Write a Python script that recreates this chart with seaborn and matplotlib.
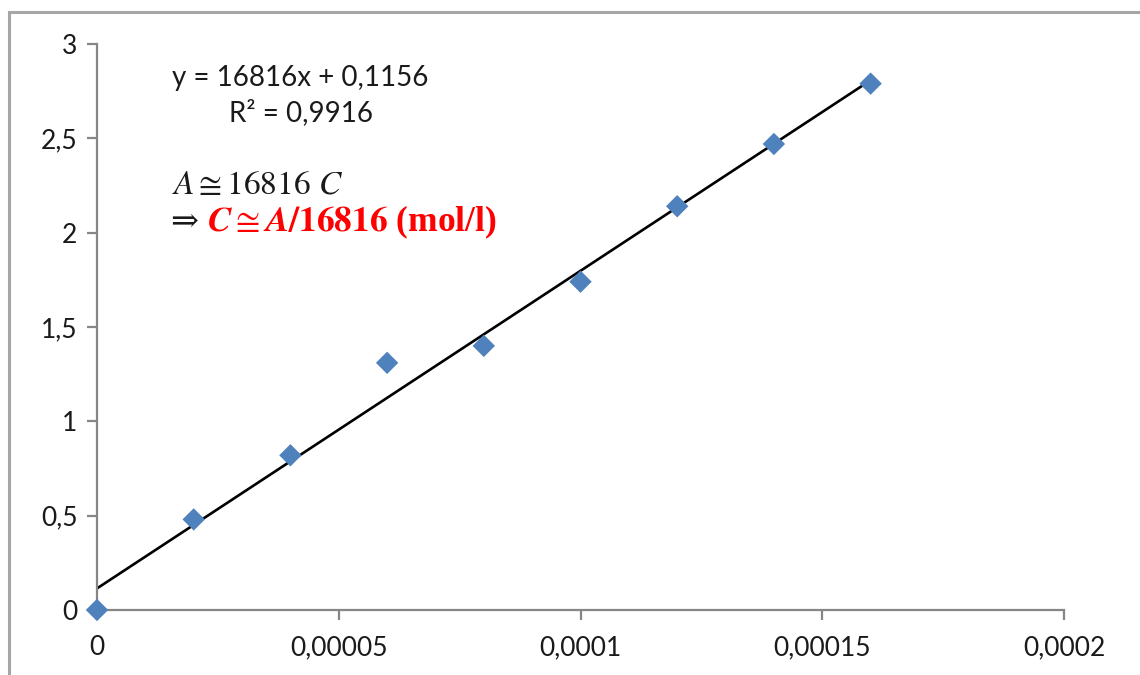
import numpy as np
import pandas as pd
import matplotlib
matplotlib.use("Agg")
import matplotlib.pyplot as plt
from matplotlib.patches import Rectangle
import seaborn as sns

# ---- data ----
concentration = [0, 0.00002, 0.00004, 0.00006, 0.00008, 0.0001, 0.00012, 0.00014, 0.00016]
absorbance = [0, 0.48, 0.82, 1.31, 1.40, 1.74, 2.14, 2.47, 2.79]
x_ticks = [0, 0.00005, 0.0001, 0.00015, 0.0002]
x_tick_labels = ["0", "0,00005", "0,0001", "0,00015", "0,0002"]
y_ticks = [0, 0.5, 1, 1.5, 2, 2.5, 3]
y_tick_labels = ["0", "0,5", "1", "1,5", "2", "2,5", "3"]
equation_text = "y = 16816x + 0,1156"
r2_text = "R² = 0,9916"
relation_text = r"$A{\cong}16816\ C$"
arrow_text = "⇒"
result_text = r"$\mathbfit{C}{\cong}\mathbfit{A}\mathbf{/16816}$ (mol/l)"

df = pd.DataFrame({"C": concentration, "A": absorbance})

sns.set_theme(style="white")
plt.rcParams["font.family"] = ["Lato", "DejaVu Sans"]
plt.rcParams["mathtext.fontset"] = "stix"

fig = plt.figure(figsize=(11.4, 6.75), dpi=100)
ax = fig.add_axes([97 / 1140, 1 - 610 / 675, (1064 - 97) / 1140, (610 - 44) / 675])

# outer chart-area frame (Excel style)
fig.patches.append(Rectangle((9 / 1140, -0.1), 1.2, 1 - 12 / 675 + 0.1,
                             transform=fig.transFigure, fill=False,
                             edgecolor="#A6A6A6", linewidth=2.2, zorder=0))

sns.regplot(data=df, x="C", y="A", ax=ax, scatter=False, ci=None, truncate=True,
            line_kws=dict(color="black", linewidth=1.9, zorder=2))
sns.scatterplot(data=df, x="C", y="A", ax=ax, marker="D", s=130, color="#4F81BD",
                edgecolor="none", zorder=3, clip_on=False)

ax.set_xlim(0, 0.0002)
ax.set_ylim(0, 3)
ax.set_xticks(x_ticks)
ax.set_xticklabels(x_tick_labels)
ax.set_yticks(y_ticks)
ax.set_yticklabels(y_tick_labels)
ax.set_xlabel("")
ax.set_ylabel("")

for side in ["top", "right"]:
    ax.spines[side].set_visible(False)
for side in ["left", "bottom"]:
    ax.spines[side].set_color("#868686")
    ax.spines[side].set_linewidth(1.6)
ax.tick_params(axis="both", direction="out", length=7, width=1.6, color="#868686",
               labelsize=19, labelcolor="#1a1a1a")
ax.tick_params(axis="y", pad=7, left=True)
ax.tick_params(axis="x", pad=11, bottom=True)

ax.text(0.0000155, 2.82, equation_text, fontsize=20, color="#1a1a1a", va="center", ha="left")
ax.text(0.0000272, 2.634, r2_text, fontsize=20, color="#1a1a1a", va="center", ha="left")
ax.text(0.0000155, 2.253, relation_text, fontsize=24, color="#1a1a1a", va="center", ha="left")
ax.text(0.0000152, 2.057, arrow_text, fontsize=24, color="#1a1a1a", va="center", ha="left",
        family=["DejaVu Serif"])
ax.text(0.0000228, 2.057, result_text, fontsize=25.5, color="#FF0000", va="center", ha="left",
        family=["Liberation Serif", "DejaVu Serif"], fontweight="bold")

fig.savefig("out.png", dpi=100)
